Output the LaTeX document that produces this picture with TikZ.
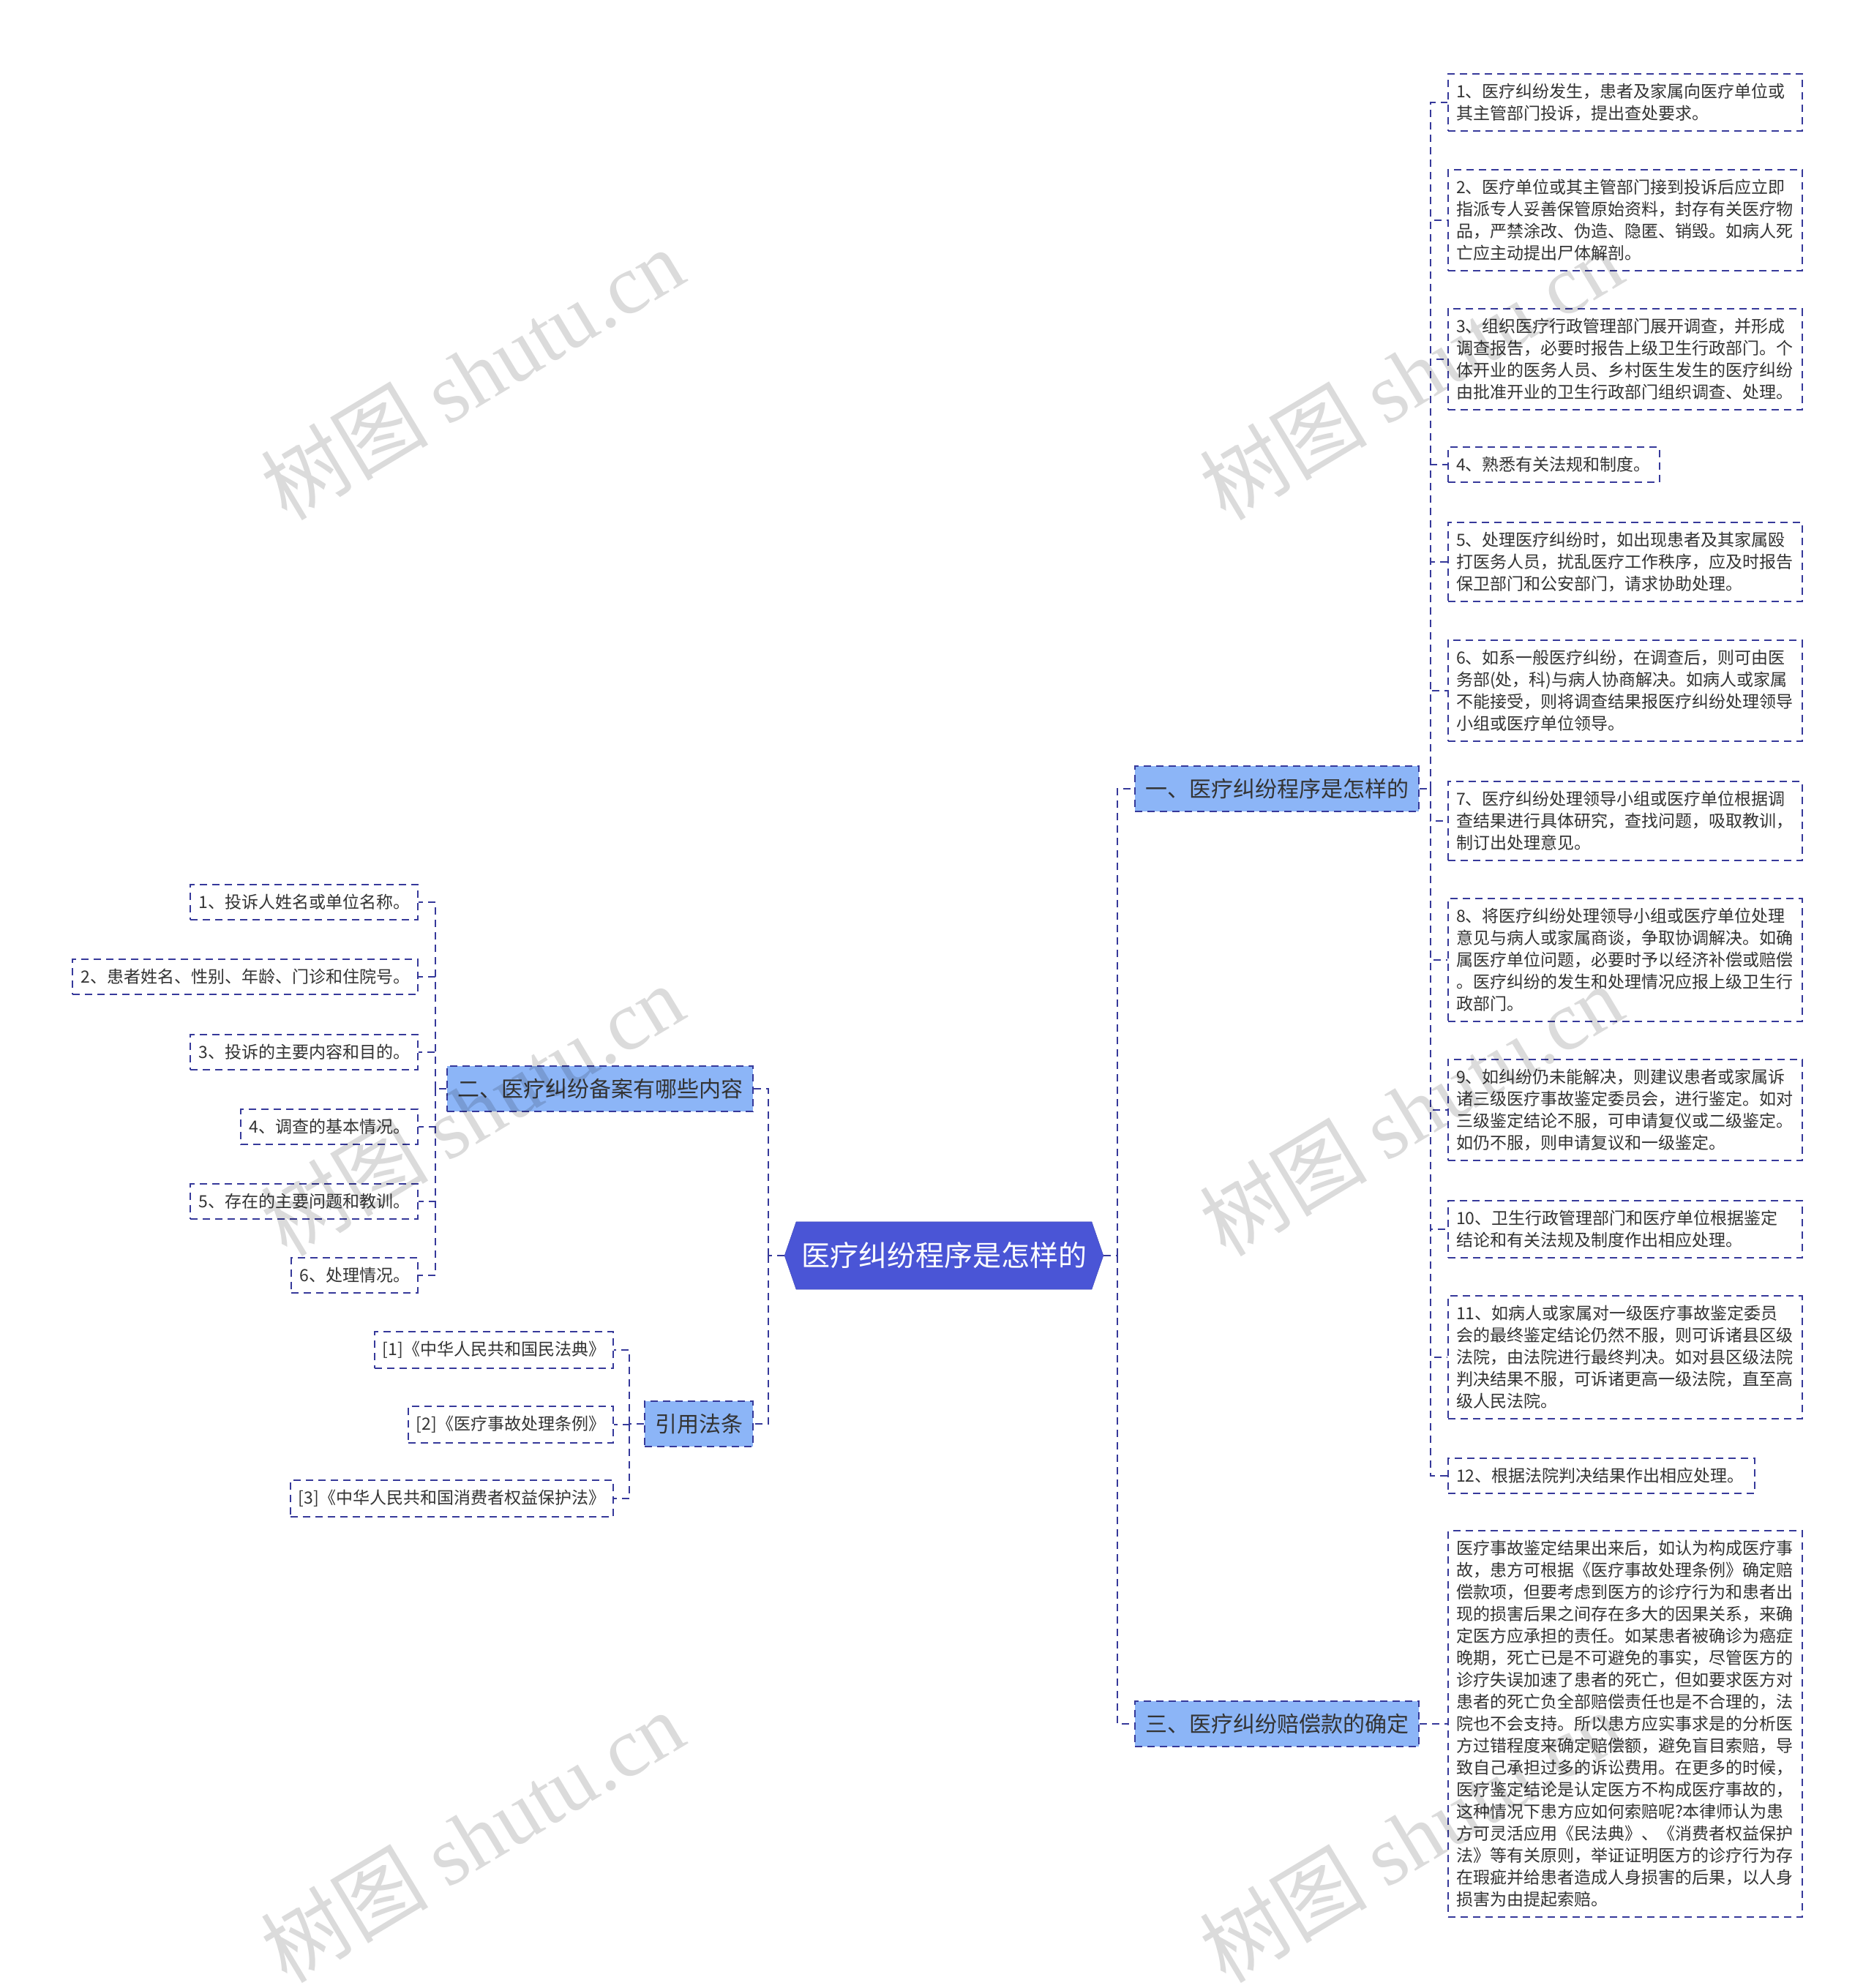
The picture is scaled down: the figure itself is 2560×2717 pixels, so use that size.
\documentclass[tikz,border=0pt]{standalone}
\usepackage{fontspec}
\setmainfont{Noto Sans CJK SC}
\newfontfamily\wmfont{Liberation Serif}
\usetikzlibrary{shapes.symbols}
\definecolor{rootblue}{HTML}{4A55D6}
\definecolor{subblue}{HTML}{8CB5F7}
\definecolor{navy}{HTML}{36399A}
\definecolor{txt}{HTML}{333333}
\tikzset{
  leaf/.style={draw=navy, line width=2pt, dash pattern=on 10pt off 7pt, fill=white, text=txt,
    font=\fontsize{23}{30}\selectfont, inner xsep=11pt, inner ysep=13pt, align=left},
  topic/.style={draw=navy, line width=2pt, dash pattern=on 10pt off 7pt, fill=subblue, text=txt,
    font=\fontsize{30}{36}\selectfont, inner xsep=14pt, inner ysep=17pt},
  link/.style={navy, line width=2pt, dash pattern=on 10pt off 7pt},
  wmark/.style={text=black, opacity=0.14, rotate=31, font=\fontsize{115}{115}\selectfont}
}
\begin{document}
\begin{tikzpicture}[x=1pt,y=-1pt]
  \useasboundingbox (0,0) rectangle (2560,2717);
  \node[shape=signal, signal to=west and east, signal pointer angle=142, fill=rootblue,
    draw=rootblue!85!black, text=white, font=\fontsize{39}{44}\selectfont,
    inner xsep=7pt, inner ysep=28pt] (root) at (1290,1716) {医疗纠纷程序是怎样的};
  \node[topic, anchor=west] (proc) at (1550,1078) {一、医疗纠纷程序是怎样的};
  \node[topic, anchor=east] (file) at (1030,1488) {二、医疗纠纷备案有哪些内容};
  \node[topic, anchor=east] (laws) at (1030,1946) {引用法条};
  \node[topic, anchor=west] (comp) at (1550,2356) {三、医疗纠纷赔偿款的确定};
  \coordinate (rbus) at (1527,1716);
  \coordinate (lbus) at (1050,1716);
  \draw[link] (root.east) -- (rbus);
  \draw[link] (rbus) |- (proc.west);
  \draw[link] (rbus) |- (comp.west);
  \draw[link] (root.west) -- (lbus);
  \draw[link] (lbus) |- (file.east);
  \draw[link] (lbus) |- (laws.east);
  % steps of the procedure
  \coordinate (pbus) at (1955,1078);
  \draw[link] (proc.east) -- (pbus);
  \foreach \y/\n/\w/\t in {
    140/1/462/{1、医疗纠纷发生，患者及家属向医疗单位或\\其主管部门投诉，提出查处要求。},
    301/2/462/{2、医疗单位或其主管部门接到投诉后应立即\\指派专人妥善保管原始资料，封存有关医疗物\\品，严禁涂改、伪造、隐匿、销毁。如病人死\\亡应主动提出尸体解剖。},
    491/3/462/{3、组织医疗行政管理部门展开调查，并形成\\调查报告，必要时报告上级卫生行政部门。个\\体开业的医务人员、乡村医生发生的医疗纠纷\\由批准开业的卫生行政部门组织调查、处理。},
    635/4/267/{4、熟悉有关法规和制度。},
    768/5/462/{5、处理医疗纠纷时，如出现患者及其家属殴\\打医务人员，扰乱医疗工作秩序，应及时报告\\保卫部门和公安部门，请求协助处理。},
    944/6/462/{6、如系一般医疗纠纷，在调查后，则可由医\\务部(处，科)与病人协商解决。如病人或家属\\不能接受，则将调查结果报医疗纠纷处理领导\\小组或医疗单位领导。},
    1122/7/462/{7、医疗纠纷处理领导小组或医疗单位根据调\\查结果进行具体研究，查找问题，吸取教训，\\制订出处理意见。},
    1312/8/462/{8、将医疗纠纷处理领导小组或医疗单位处理\\意见与病人或家属商谈，争取协调解决。如确\\属医疗单位问题，必要时予以经济补偿或赔偿\\。医疗纠纷的发生和处理情况应报上级卫生行\\政部门。},
    1517/9/462/{9、如纠纷仍未能解决，则建议患者或家属诉\\诸三级医疗事故鉴定委员会，进行鉴定。如对\\三级鉴定结论不服，可申请复仪或二级鉴定。\\如仍不服，则申请复议和一级鉴定。},
    1680/10/462/{10、卫生行政管理部门和医疗单位根据鉴定\\结论和有关法规及制度作出相应处理。},
    1855/11/462/{11、如病人或家属对一级医疗事故鉴定委员\\会的最终鉴定结论仍然不服，则可诉诸县区级\\法院，由法院进行最终判决。如对县区级法院\\判决结果不服，可诉诸更高一级法院，直至高\\级人民法院。},
    2017/12/397/{12、根据法院判决结果作出相应处理。}}{
    \node[leaf, anchor=west, text width=\w pt] (step\n) at (1978,\y) {\t};
    \draw[link] (pbus) |- (step\n.west);
  }
  % filing contents
  \coordinate (fbus) at (595,1488);
  \draw[link] (file.west) -- (fbus);
  \foreach \y/\n/\t in {1233/1/{1、投诉人姓名或单位名称。}, 1335/2/{2、患者姓名、性别、年龄、门诊和住院号。},
    1438/3/{3、投诉的主要内容和目的。}, 1540/4/{4、调查的基本情况。},
    1642/5/{5、存在的主要问题和教训。}, 1743/6/{6、处理情况。}}{
    \node[leaf, anchor=east] (item\n) at (572,\y) {\t};
    \draw[link] (fbus) |- (item\n.east);
  }
  % cited laws
  \coordinate (cbus) at (860,1946);
  \draw[link] (laws.west) -- (cbus);
  \foreach \y/\n/\t in {1845/1/{[1]《中华人民共和国民法典》}, 1947/2/{[2]《医疗事故处理条例》},
    2048/3/{[3]《中华人民共和国消费者权益保护法》}}{
    \node[leaf, anchor=east] (law\n) at (839,\y) {\t};
    \draw[link] (cbus) |- (law\n.east);
  }
  % compensation
  \node[leaf, anchor=west, text width=462pt] (money) at (1978,2356) {医疗事故鉴定结果出来后，如认为构成医疗事\\故，患方可根据《医疗事故处理条例》确定赔\\偿款项，但要考虑到医方的诊疗行为和患者出\\现的损害后果之间存在多大的因果关系，来确\\定医方应承担的责任。如某患者被确诊为癌症\\晚期，死亡已是不可避免的事实，尽管医方的\\诊疗失误加速了患者的死亡，但如要求医方对\\患者的死亡负全部赔偿责任也是不合理的，法\\院也不会支持。所以患方应实事求是的分析医\\方过错程度来确定赔偿额，避免盲目索赔，导\\致自己承担过多的诉讼费用。在更多的时候，\\医疗鉴定结论是认定医方不构成医疗事故的，\\这种情况下患方应如何索赔呢?本律师认为患\\方可灵活应用《民法典》、《消费者权益保护\\法》等有关原则，举证证明医方的诊疗行为存\\在瑕疵并给患者造成人身损害的后果，以人身\\损害为由提起索赔。};
  \draw[link] (comp.east) -- (money.west);
  % watermark
  \foreach \x in {645,1928}
    \foreach \y in {511,1517,2510}
      \node[wmark] (wm-\x-\y) at (\x,\y) {树图 {\wmfont shutu.cn}};
\end{tikzpicture}
\end{document}
